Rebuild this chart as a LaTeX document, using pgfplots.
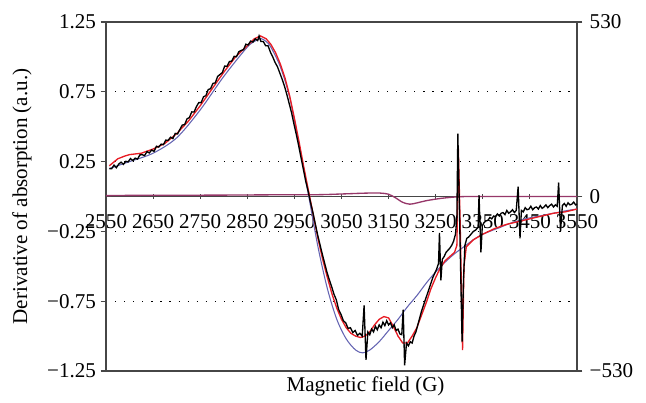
\documentclass[border=0pt]{standalone}
\usepackage{fontspec}
\setmainfont{Liberation Serif}
\usepackage{pgfplots}
\pgfplotsset{compat=1.18}

\definecolor{simred}{RGB}{232,28,36}
\definecolor{simblue}{RGB}{100,100,178}
\definecolor{simpurple}{RGB}{150,55,105}
\definecolor{axisgray}{RGB}{70,70,70}

\begin{document}
\begin{tikzpicture}[font=\fontsize{15.8}{18}\selectfont]
\pgfplotsset{
  every axis/.append style={
    scale only axis, width=353.25pt, height=261.75pt,
    xmin=2550, xmax=3550,
    tick align=outside, major tick length=4pt,
    tick style={axisgray, line width=0.8pt},
  },
}

% field axis drawn through zero
\begin{axis}[
  axis x line=middle, axis y line=none,
  ymin=-1.25, ymax=1.25,
  axis line style={-, axisgray, line width=0.9pt},
  xtick={2550,2650,2750,2850,2950,3050,3150,3250,3350,3450,3550},
  xticklabels={2550,2650,2750,2850,2950,3050,3150,3250,3350,3450,3550},
  x tick label style={anchor=north, yshift=-8pt},
]
\end{axis}

% secondary intensity scale
\begin{axis}[
  axis x line=none, axis y line*=right,
  ymin=-530, ymax=530,
  axis line style={-, axisgray, line width=0.9pt},
  ytick={-530,0,530},
  yticklabels={−530,0,530},
  y tick label style={xshift=2pt},
]
\end{axis}

\begin{axis}[
  name=main,
  ymin=-1.25, ymax=1.25,
  xtick=\empty,
  ytick={-1.25,-0.75,-0.25,0.25,0.75,1.25},
  yticklabels={−1.25,−0.75,−0.25,0.25,0.75,1.25},
  ytick pos=left,
  ymajorgrids,
  grid style={black, line width=0.8pt, dash pattern=on 0.9pt off 5.9pt},
  axis line style={axisgray, line width=0.9pt},
  xlabel={Magnetic field (G)},
  xlabel style={at={(axis description cs:0.551,0)}, anchor=north, yshift=-1pt},
  ylabel={Derivative of absorption (a.u.)},
  ylabel style={at={(axis description cs:0,0.5)}, anchor=center, yshift=63pt},
]
% broad component
\addplot[simblue, line width=0.8pt, smooth] coordinates {
(2557,0.20) (2600,0.25) (2650,0.31) (2700,0.42) (2750,0.62) (2800,0.86)
(2850,1.07) (2870,1.12) (2880,1.13) (2890,1.11) (2900,1.07) (2920,0.93)
(2940,0.71) (2960,0.37) (2980,0.01) (3000,-0.36) (3020,-0.66) (3040,-0.88)
(3060,-1.02) (3080,-1.10) (3095,-1.12) (3110,-1.10) (3130,-1.04) (3150,-0.96)
(3170,-0.88) (3190,-0.79) (3210,-0.71) (3230,-0.62) (3250,-0.54) (3270,-0.47)
(3290,-0.41) (3310,-0.36) (3330,-0.31) (3350,-0.27) (3380,-0.23) (3410,-0.19)
(3440,-0.16) (3470,-0.14) (3500,-0.12) (3530,-0.10) (3550,-0.09)
};
% narrow component
\addplot[simpurple, line width=1pt, smooth] coordinates {
(2550,0.006) (2600,0.008) (2700,0.009) (2800,0.010) (2900,0.012) (3000,0.013)
(3050,0.018) (3100,0.024) (3130,0.025) (3150,0.016) (3165,-0.010) (3180,-0.042)
(3195,-0.055) (3210,-0.046) (3230,-0.030) (3260,-0.014) (3290,-0.004)
(3320,0.000) (3400,0.000) (3550,0.000)
};
% simulated sum
\addplot[simred, line width=1pt] coordinates {
(2557,0.22) (2575,0.27) (2590,0.29) (2600,0.30) (2625,0.31) (2650,0.34)
(2675,0.38) (2700,0.45) (2725,0.54) (2750,0.65) (2775,0.77) (2800,0.89)
(2825,1.00) (2850,1.08) (2865,1.13) (2878,1.15) (2890,1.13) (2900,1.09)
(2910,1.03) (2920,0.95) (2930,0.85) (2940,0.72) (2950,0.56) (2960,0.39)
(2970,0.21) (2980,0.04) (2990,-0.13) (3000,-0.30) (3010,-0.45) (3020,-0.58)
(3030,-0.70) (3040,-0.80) (3050,-0.88) (3060,-0.94) (3070,-0.98) (3080,-1.00)
(3090,-1.01) (3100,-1.00) (3110,-0.97) (3120,-0.92) (3130,-0.88) (3140,-0.86)
(3150,-0.87) (3160,-0.93) (3170,-1.00) (3180,-1.05) (3190,-1.05) (3200,-1.00)
(3210,-0.94) (3220,-0.85) (3230,-0.76) (3240,-0.66) (3250,-0.58) (3260,-0.51)
(3270,-0.46) (3280,-0.43) (3290,-0.40) (3295,-0.35) (3298,0.35) (3302,-0.20)
(3307,-1.10) (3310,-0.50) (3315,-0.36) (3330,-0.31) (3350,-0.27) (3375,-0.23)
(3400,-0.20) (3425,-0.18) (3450,-0.16) (3475,-0.14) (3500,-0.12) (3525,-0.11)
(3550,-0.09)
};
% measured spectrum
\addplot[black, line width=1pt] coordinates {
(2557,0.200) (2562,0.199) (2567,0.225) (2572,0.206) (2577,0.232) (2582,0.246)
(2587,0.230) (2592,0.252) (2597,0.248) (2602,0.272) (2607,0.257) (2612,0.275)
(2617,0.268) (2622,0.298) (2627,0.299) (2632,0.293) (2637,0.322) (2642,0.312)
(2647,0.333) (2652,0.323) (2657,0.360) (2662,0.354) (2667,0.375) (2672,0.371)
(2677,0.404) (2682,0.402) (2687,0.425) (2692,0.415) (2697,0.452) (2702,0.448)
(2707,0.481) (2712,0.512) (2717,0.515) (2722,0.556) (2727,0.565) (2732,0.606)
(2737,0.605) (2742,0.644) (2747,0.673) (2752,0.672) (2757,0.714) (2762,0.722)
(2767,0.766) (2772,0.772) (2777,0.810) (2782,0.814) (2787,0.860) (2792,0.874)
(2797,0.888) (2802,0.934) (2807,0.933) (2812,0.967) (2817,0.970) (2822,1.004)
(2827,1.001) (2832,1.037) (2837,1.046) (2842,1.052) (2847,1.091) (2852,1.086)
(2857,1.113) (2862,1.106) (2867,1.129) (2872,1.117) (2875,1.150) (2879,1.110)
(2884,1.11) (2889,1.08) (2894,1.08) (2899,1.035) (2904,1.00) (2909,0.96)
(2914,0.93) (2919,0.885) (2924,0.84) (2929,0.79) (2934,0.73) (2939,0.665)
(2944,0.60) (2949,0.52) (2954,0.445) (2959,0.365) (2964,0.28) (2969,0.195)
(2974,0.11) (2979,0.04) (2984,-0.04) (2989,-0.11) (2994,-0.19) (2999,-0.27)
(3004,-0.34) (3009,-0.41) (3014,-0.475) (3019,-0.54) (3024,-0.595) (3029,-0.645)
(3034,-0.70) (3039,-0.74) (3044,-0.81) (3049,-0.845) (3054,-0.89) (3059,-0.905)
(3064,-0.945) (3069,-0.94) (3074,-0.975) (3079,-0.96) (3084,-0.995) (3089,-0.98)
(3094,-1.00) (3098,-0.78) (3102,-1.17) (3106,-0.97) (3110,-0.99) (3114,-0.95)
(3118,-0.97) (3122,-0.93) (3126,-0.955) (3130,-0.92) (3134,-0.94) (3138,-0.90)
(3142,-0.925) (3146,-0.89) (3150,-0.92) (3154,-0.905) (3158,-0.94) (3162,-0.92)
(3166,-0.96) (3170,-0.95) (3174,-0.985) (3178,-0.99) (3181,-0.81) (3184,-1.21)
(3188,-1.05) (3192,-1.07) (3196,-1.04) (3200,-1.05) (3204,-1.00) (3208,-0.97)
(3212,-0.92) (3216,-0.87) (3220,-0.82) (3224,-0.78) (3228,-0.74) (3232,-0.70)
(3236,-0.66) (3240,-0.62) (3244,-0.58) (3248,-0.55) (3252,-0.52) (3256,-0.48)
(3258,-0.26) (3261,-0.60) (3264,-0.45) (3268,-0.43) (3272,-0.40) (3276,-0.385)
(3280,-0.37) (3284,-0.35) (3288,-0.32) (3292,-0.27) (3295,-0.15) (3297,0.45)
(3301,-0.20) (3306,-1.04) (3309,-0.60) (3312,-0.35) (3316,-0.30) (3320,-0.29)
(3325,-0.27) (3330,-0.25) (3335,-0.24) (3340,-0.22) (3342,0.01) (3346,-0.40)
(3349,-0.21) (3353,-0.185) (3357,-0.175) (3361,-0.17) (3365,-0.15) (3369,-0.16)
(3373,-0.14) (3377,-0.145) (3381,-0.125) (3385,-0.14) (3389,-0.12) (3393,-0.115)
(3397,-0.13) (3401,-0.10) (3405,-0.12) (3409,-0.11) (3413,-0.095) (3417,-0.115)
(3421,-0.10) (3425,0.07) (3429,-0.30) (3432,-0.10) (3436,-0.11) (3440,-0.08)
(3444,-0.095) (3448,-0.09) (3452,-0.07) (3456,-0.095) (3460,-0.08) (3464,-0.075)
(3468,-0.09) (3472,-0.065) (3476,-0.085) (3480,-0.075) (3484,-0.06) (3488,-0.08)
(3492,-0.065) (3496,-0.055) (3500,-0.075) (3504,-0.06) (3508,-0.07) (3511,0.10)
(3515,-0.25) (3519,-0.065) (3523,-0.05) (3527,-0.07) (3531,-0.045) (3535,-0.06)
(3539,-0.055) (3543,-0.04) (3547,-0.06) (3550,-0.055)
};
\end{axis}

\pgfresetboundingbox
\path ([shift={(-79.5pt,-24pt)}]main.south west) rectangle ([shift={(405pt,278.25pt)}]main.south west);
\end{tikzpicture}
\end{document}
